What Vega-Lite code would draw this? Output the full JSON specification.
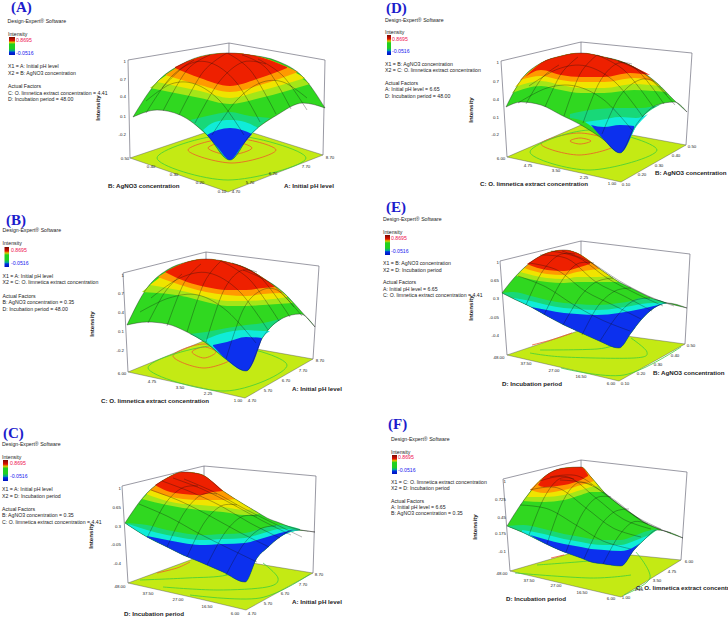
{"$schema":"https://vega.github.io/schema/vega-lite/v6.json","width":728,"height":619,"padding":0,"autosize":{"type":"fit","contains":"padding"},"background":"white","view":{"stroke":null},
"encoding":{"x":{"field":"x","type":"quantitative","axis":null,"scale":{"domain":[0,728],"nice":false,"zero":false}},"y":{"field":"y","type":"quantitative","axis":null,"scale":{"domain":[619,0],"nice":false,"zero":false}}},
"datasets":{
"floor":[
{"p":"A","x":130,"y":158,"y2":158},{"p":"A","x":228,"y":125,"y2":192},{"p":"A","x":323,"y":155,"y2":155},
{"p":"B","x":128,"y":372,"y2":372},{"p":"B","x":206,"y":340,"y2":389},{"p":"B","x":245,"y":347,"y2":398},{"p":"B","x":313,"y":359,"y2":359},
{"p":"C","x":128,"y":583,"y2":583},{"p":"C","x":204,"y":555,"y2":600},{"p":"C","x":246,"y":562,"y2":610},{"p":"C","x":313,"y":573,"y2":573},
{"p":"D","x":507,"y":157,"y2":157},{"p":"D","x":581,"y":125,"y2":173},{"p":"D","x":621,"y":133,"y2":182},{"p":"D","x":686,"y":145,"y2":145},
{"p":"E","x":507,"y":355,"y2":355},{"p":"E","x":581,"y":330,"y2":372},{"p":"E","x":619,"y":335,"y2":381},{"p":"E","x":685,"y":344,"y2":344},
{"p":"F","x":510,"y":571,"y2":571},{"p":"F","x":582,"y":550,"y2":588},{"p":"F","x":621,"y":554,"y2":597},{"p":"F","x":681,"y":560,"y2":560}],
"rings":[
{"l":"A1","c":"o","x":208,"y":148},{"l":"A1","c":"o","x":230,"y":155},{"l":"A1","c":"o","x":252,"y":148},{"l":"A1","c":"o","x":230,"y":141},
{"l":"A2","c":"o","x":188,"y":150},{"l":"A2","c":"o","x":232,"y":163},{"l":"A2","c":"o","x":276,"y":150},{"l":"A2","c":"o","x":232,"y":138},
{"l":"A3","c":"g","x":157,"y":158},{"l":"A3","c":"g","x":228,"y":180},{"l":"A3","c":"g","x":306,"y":158},{"l":"A3","c":"g","x":228,"y":135},
{"l":"B1","c":"o","x":192,"y":352},{"l":"B1","c":"o","x":204,"y":358},{"l":"B1","c":"o","x":216,"y":352},{"l":"B1","c":"o","x":204,"y":347},
{"l":"B2","c":"o","x":173,"y":356},{"l":"B2","c":"o","x":204,"y":368},{"l":"B2","c":"o","x":235,"y":356},{"l":"B2","c":"o","x":204,"y":344},
{"l":"B3","c":"g","x":148,"y":368},{"l":"B3","c":"g","x":225,"y":391},{"l":"B3","c":"g","x":287,"y":365},{"l":"B3","c":"g","x":220,"y":345},
{"l":"D1","c":"o","x":570,"y":141},{"l":"D1","c":"o","x":580,"y":144},{"l":"D1","c":"o","x":591,"y":141},{"l":"D1","c":"o","x":580,"y":138},
{"l":"D2","c":"o","x":541,"y":144},{"l":"D2","c":"o","x":579,"y":155},{"l":"D2","c":"o","x":617,"y":144},{"l":"D2","c":"o","x":579,"y":133},
{"l":"D3","c":"g","x":530,"y":152},{"l":"D3","c":"g","x":590,"y":170},{"l":"D3","c":"g","x":657,"y":150},{"l":"D3","c":"g","x":590,"y":130}],
"arcs":[
{"l":"C1","c":"o","x":157,"y":573},{"l":"C1","c":"o","x":177,"y":568},{"l":"C1","c":"o","x":190,"y":562},
{"l":"C2","c":"g","x":140,"y":580},{"l":"C2","c":"g","x":187,"y":578},{"l":"C2","c":"g","x":227,"y":575},{"l":"C2","c":"g","x":253,"y":562},
{"l":"C3","c":"g","x":263,"y":563},{"l":"C3","c":"g","x":278,"y":578},{"l":"C3","c":"g","x":267,"y":587},{"l":"C3","c":"g","x":217,"y":590},{"l":"C3","c":"g","x":163,"y":587},
{"l":"C4","c":"g","x":190,"y":595},{"l":"C4","c":"g","x":260,"y":598},{"l":"C4","c":"g","x":310,"y":574},
{"l":"E1","c":"o","x":532,"y":345},{"l":"E1","c":"o","x":551,"y":340},{"l":"E1","c":"o","x":572,"y":333},
{"l":"E2","c":"g","x":540,"y":350},{"l":"E2","c":"g","x":597,"y":349},{"l":"E2","c":"g","x":617,"y":344},
{"l":"E3","c":"g","x":631,"y":338},{"l":"E3","c":"g","x":647,"y":352},{"l":"E3","c":"g","x":634,"y":358},{"l":"E3","c":"g","x":564,"y":357},{"l":"E3","c":"g","x":530,"y":353},
{"l":"E4","c":"g","x":561,"y":368},{"l":"E4","c":"g","x":624,"y":375},{"l":"E4","c":"g","x":681,"y":347},
{"l":"F1","c":"o","x":551,"y":558},{"l":"F1","c":"o","x":564,"y":555},
{"l":"F2","c":"g","x":537,"y":565},{"l":"F2","c":"g","x":577,"y":562},{"l":"F2","c":"g","x":624,"y":558},
{"l":"F3","c":"g","x":636,"y":552},{"l":"F3","c":"g","x":650,"y":578},{"l":"F3","c":"g","x":624,"y":595},
{"l":"F4","c":"g","x":515,"y":573},{"l":"F4","c":"g","x":590,"y":578},{"l":"F4","c":"g","x":631,"y":575}],
"box":[
{"l":"A","x":130,"y":158},{"l":"A","x":128,"y":60},{"l":"A","x":229,"y":43},{"l":"A","x":325,"y":60},{"l":"A","x":323,"y":155},{"l":"a","x":229,"y":43},{"l":"a","x":228,"y":125},
{"l":"B","x":128,"y":372},{"l":"B","x":123,"y":273},{"l":"B","x":206,"y":252},{"l":"B","x":319,"y":266},{"l":"B","x":313,"y":359},{"l":"b","x":206,"y":252},{"l":"b","x":206,"y":340},
{"l":"C","x":128,"y":583},{"l":"C","x":122,"y":486},{"l":"C","x":204,"y":466},{"l":"C","x":316,"y":476},{"l":"C","x":313,"y":573},{"l":"c","x":204,"y":466},{"l":"c","x":204,"y":555},
{"l":"D","x":507,"y":157},{"l":"D","x":501,"y":61},{"l":"D","x":581,"y":42},{"l":"D","x":692,"y":53},{"l":"D","x":686,"y":145},{"l":"d","x":581,"y":42},{"l":"d","x":581,"y":125},
{"l":"E","x":507,"y":355},{"l":"E","x":500,"y":261},{"l":"E","x":581,"y":241},{"l":"E","x":690,"y":254},{"l":"E","x":685,"y":344},{"l":"e","x":581,"y":241},{"l":"e","x":581,"y":330},
{"l":"F","x":510,"y":571},{"l":"F","x":503,"y":479},{"l":"F","x":581,"y":460},{"l":"F","x":687,"y":472},{"l":"F","x":681,"y":560},{"l":"f","x":581,"y":460},{"l":"f","x":582,"y":550}],
"surf":[
{"p":"A","b":"g","x":133,"y":117,"y2":117},{"p":"A","b":"g","x":157,"y":82,"y2":110},{"p":"A","b":"g","x":180,"y":65,"y2":115},{"p":"A","b":"g","x":207,"y":55,"y2":135},{"p":"A","b":"g","x":230,"y":53,"y2":160},{"p":"A","b":"g","x":250,"y":55,"y2":135},{"p":"A","b":"g","x":277,"y":61,"y2":115},{"p":"A","b":"g","x":303,"y":77,"y2":103},{"p":"A","b":"g","x":325,"y":108,"y2":108},
{"p":"A","b":"t","x":190,"y":120,"y2":120},{"p":"A","b":"t","x":207,"y":116,"y2":135},{"p":"A","b":"t","x":230,"y":112,"y2":160},{"p":"A","b":"t","x":250,"y":116,"y2":135},{"p":"A","b":"t","x":270,"y":118,"y2":118},
{"p":"A","b":"c","x":203,"y":130,"y2":130},{"p":"A","b":"c","x":215,"y":122,"y2":144},{"p":"A","b":"c","x":230,"y":120,"y2":160},{"p":"A","b":"c","x":245,"y":122,"y2":141},{"p":"A","b":"c","x":258,"y":128,"y2":128},
{"p":"A","b":"k","x":207,"y":135,"y2":135},{"p":"A","b":"k","x":218,"y":130,"y2":148},{"p":"A","b":"k","x":230,"y":128,"y2":160},{"p":"A","b":"k","x":242,"y":130,"y2":146},{"p":"A","b":"k","x":252,"y":134,"y2":134},
{"p":"A","b":"l","x":150,"y":88,"y2":88},{"p":"A","b":"l","x":200,"y":57,"y2":98},{"p":"A","b":"l","x":230,"y":53,"y2":104},{"p":"A","b":"l","x":260,"y":57,"y2":98},{"p":"A","b":"l","x":310,"y":84,"y2":84},
{"p":"A","b":"y","x":157,"y":82,"y2":82},{"p":"A","b":"y","x":200,"y":57,"y2":91},{"p":"A","b":"y","x":230,"y":53,"y2":98},{"p":"A","b":"y","x":260,"y":57,"y2":91},{"p":"A","b":"y","x":305,"y":78,"y2":78},
{"p":"A","b":"o","x":165,"y":75,"y2":75},{"p":"A","b":"o","x":200,"y":57,"y2":85},{"p":"A","b":"o","x":230,"y":53,"y2":92},{"p":"A","b":"o","x":260,"y":57,"y2":85},{"p":"A","b":"o","x":298,"y":72,"y2":72},
{"p":"A","b":"r","x":175,"y":67,"y2":68},{"p":"A","b":"r","x":200,"y":57,"y2":78},{"p":"A","b":"r","x":230,"y":53,"y2":86},{"p":"A","b":"r","x":260,"y":57,"y2":78},{"p":"A","b":"r","x":287,"y":67,"y2":68},
{"p":"B","b":"g","x":127,"y":325,"y2":325},{"p":"B","b":"g","x":147,"y":288,"y2":322},{"p":"B","b":"g","x":167,"y":270,"y2":324},{"p":"B","b":"g","x":187,"y":262,"y2":332},{"p":"B","b":"g","x":206,"y":259,"y2":343},{"p":"B","b":"g","x":227,"y":262,"y2":360},{"p":"B","b":"g","x":246,"y":268,"y2":371},{"p":"B","b":"g","x":263,"y":278,"y2":337},{"p":"B","b":"g","x":283,"y":292,"y2":318},{"p":"B","b":"g","x":300,"y":310,"y2":314},{"p":"B","b":"g","x":315,"y":327,"y2":327},
{"p":"B","b":"t","x":190,"y":334,"y2":334},{"p":"B","b":"t","x":206,"y":332,"y2":343},{"p":"B","b":"t","x":227,"y":328,"y2":360},{"p":"B","b":"t","x":246,"y":325,"y2":371},{"p":"B","b":"t","x":263,"y":323,"y2":337},{"p":"B","b":"t","x":283,"y":318,"y2":318},
{"p":"B","b":"c","x":205,"y":340,"y2":340},{"p":"B","b":"c","x":220,"y":334,"y2":354},{"p":"B","b":"c","x":246,"y":330,"y2":371},{"p":"B","b":"c","x":263,"y":331,"y2":337},{"p":"B","b":"c","x":270,"y":331,"y2":331},
{"p":"B","b":"k","x":213,"y":345,"y2":346},{"p":"B","b":"k","x":227,"y":342,"y2":360},{"p":"B","b":"k","x":246,"y":337,"y2":371},{"p":"B","b":"k","x":262,"y":338,"y2":338},
{"p":"B","b":"l","x":142,"y":292,"y2":292},{"p":"B","b":"l","x":187,"y":262,"y2":297},{"p":"B","b":"l","x":206,"y":259,"y2":302},{"p":"B","b":"l","x":227,"y":262,"y2":306},{"p":"B","b":"l","x":246,"y":268,"y2":306},{"p":"B","b":"l","x":263,"y":278,"y2":305},{"p":"B","b":"l","x":293,"y":303,"y2":303},
{"p":"B","b":"y","x":150,"y":285,"y2":285},{"p":"B","b":"y","x":187,"y":262,"y2":292},{"p":"B","b":"y","x":206,"y":259,"y2":297},{"p":"B","b":"y","x":227,"y":262,"y2":301},{"p":"B","b":"y","x":246,"y":268,"y2":301},{"p":"B","b":"y","x":263,"y":278,"y2":300},{"p":"B","b":"y","x":288,"y":297,"y2":297},
{"p":"B","b":"o","x":158,"y":277,"y2":277},{"p":"B","b":"o","x":187,"y":262,"y2":287},{"p":"B","b":"o","x":206,"y":259,"y2":292},{"p":"B","b":"o","x":227,"y":262,"y2":295},{"p":"B","b":"o","x":246,"y":268,"y2":296},{"p":"B","b":"o","x":263,"y":278,"y2":294},{"p":"B","b":"o","x":283,"y":293,"y2":293},
{"p":"B","b":"r","x":165,"y":272,"y2":272},{"p":"B","b":"r","x":187,"y":262,"y2":282},{"p":"B","b":"r","x":206,"y":259,"y2":287},{"p":"B","b":"r","x":227,"y":262,"y2":290},{"p":"B","b":"r","x":246,"y":268,"y2":290},{"p":"B","b":"r","x":263,"y":278,"y2":288},{"p":"B","b":"r","x":275,"y":287,"y2":287},
{"p":"C","b":"g","x":125,"y":523,"y2":523},{"p":"C","b":"g","x":147,"y":493,"y2":537},{"p":"C","b":"g","x":167,"y":478,"y2":547},{"p":"C","b":"g","x":183,"y":472,"y2":555},{"p":"C","b":"g","x":200,"y":474,"y2":562},{"p":"C","b":"g","x":223,"y":491,"y2":572},{"p":"C","b":"g","x":245,"y":505,"y2":582},{"p":"C","b":"g","x":257,"y":512,"y2":558},{"p":"C","b":"g","x":267,"y":518,"y2":548},{"p":"C","b":"g","x":280,"y":523,"y2":537},{"p":"C","b":"g","x":293,"y":528,"y2":530},{"p":"C","b":"g","x":315,"y":532,"y2":532},
{"p":"C","b":"t","x":125,"y":523,"y2":523},{"p":"C","b":"t","x":147,"y":525,"y2":537},{"p":"C","b":"t","x":167,"y":530,"y2":547},{"p":"C","b":"t","x":183,"y":533,"y2":555},{"p":"C","b":"t","x":200,"y":535,"y2":562},{"p":"C","b":"t","x":223,"y":534,"y2":572},{"p":"C","b":"t","x":245,"y":533,"y2":582},{"p":"C","b":"t","x":257,"y":530,"y2":558},{"p":"C","b":"t","x":267,"y":527,"y2":548},{"p":"C","b":"t","x":280,"y":525,"y2":537},{"p":"C","b":"t","x":300,"y":529,"y2":530},
{"p":"C","b":"c","x":128,"y":524,"y2":525},{"p":"C","b":"c","x":147,"y":530,"y2":537},{"p":"C","b":"c","x":167,"y":535,"y2":547},{"p":"C","b":"c","x":183,"y":538,"y2":555},{"p":"C","b":"c","x":200,"y":540,"y2":562},{"p":"C","b":"c","x":223,"y":539,"y2":572},{"p":"C","b":"c","x":245,"y":538,"y2":582},{"p":"C","b":"c","x":257,"y":535,"y2":558},{"p":"C","b":"c","x":267,"y":532,"y2":548},{"p":"C","b":"c","x":280,"y":529,"y2":537},{"p":"C","b":"c","x":300,"y":530,"y2":530},
{"p":"C","b":"k","x":147,"y":536,"y2":537},{"p":"C","b":"k","x":167,"y":540,"y2":547},{"p":"C","b":"k","x":183,"y":543,"y2":555},{"p":"C","b":"k","x":200,"y":545,"y2":562},{"p":"C","b":"k","x":223,"y":544,"y2":572},{"p":"C","b":"k","x":245,"y":543,"y2":582},{"p":"C","b":"k","x":257,"y":540,"y2":558},{"p":"C","b":"k","x":267,"y":537,"y2":548},{"p":"C","b":"k","x":280,"y":533,"y2":537},{"p":"C","b":"k","x":293,"y":530,"y2":530},
{"p":"C","b":"l","x":142,"y":499,"y2":499},{"p":"C","b":"l","x":167,"y":478,"y2":505},{"p":"C","b":"l","x":183,"y":472,"y2":508},{"p":"C","b":"l","x":200,"y":474,"y2":510},{"p":"C","b":"l","x":223,"y":491,"y2":512},{"p":"C","b":"l","x":245,"y":505,"y2":515},{"p":"C","b":"l","x":260,"y":514,"y2":514},
{"p":"C","b":"y","x":146,"y":494,"y2":494},{"p":"C","b":"y","x":167,"y":478,"y2":501},{"p":"C","b":"y","x":183,"y":472,"y2":504},{"p":"C","b":"y","x":200,"y":474,"y2":505},{"p":"C","b":"y","x":223,"y":491,"y2":507},{"p":"C","b":"y","x":245,"y":505,"y2":510},{"p":"C","b":"y","x":252,"y":509,"y2":509},
{"p":"C","b":"o","x":150,"y":490,"y2":490},{"p":"C","b":"o","x":167,"y":478,"y2":496},{"p":"C","b":"o","x":183,"y":472,"y2":499},{"p":"C","b":"o","x":200,"y":474,"y2":500},{"p":"C","b":"o","x":223,"y":491,"y2":500},{"p":"C","b":"o","x":235,"y":499,"y2":499},
{"p":"C","b":"r","x":155,"y":485,"y2":485},{"p":"C","b":"r","x":167,"y":478,"y2":491},{"p":"C","b":"r","x":183,"y":472,"y2":494},{"p":"C","b":"r","x":200,"y":474,"y2":495},{"p":"C","b":"r","x":213,"y":482,"y2":492},{"p":"C","b":"r","x":223,"y":491,"y2":491},
{"p":"D","b":"g","x":506,"y":107,"y2":107},{"p":"D","b":"g","x":521,"y":80,"y2":102},{"p":"D","b":"g","x":541,"y":63,"y2":105},{"p":"D","b":"g","x":561,"y":56,"y2":115},{"p":"D","b":"g","x":581,"y":53,"y2":125},{"p":"D","b":"g","x":604,"y":57,"y2":140},{"p":"D","b":"g","x":620,"y":61,"y2":153},{"p":"D","b":"g","x":634,"y":67,"y2":128},{"p":"D","b":"g","x":657,"y":83,"y2":105},{"p":"D","b":"g","x":674,"y":100,"y2":102},{"p":"D","b":"g","x":687,"y":112,"y2":112},
{"p":"D","b":"t","x":570,"y":114,"y2":118},{"p":"D","b":"t","x":590,"y":110,"y2":124},{"p":"D","b":"t","x":620,"y":108,"y2":153},{"p":"D","b":"t","x":640,"y":108,"y2":120},{"p":"D","b":"t","x":662,"y":104,"y2":104},
{"p":"D","b":"c","x":585,"y":122,"y2":122},{"p":"D","b":"c","x":600,"y":120,"y2":133},{"p":"D","b":"c","x":620,"y":117,"y2":153},{"p":"D","b":"c","x":636,"y":118,"y2":127},{"p":"D","b":"c","x":648,"y":114,"y2":114},
{"p":"D","b":"k","x":591,"y":125,"y2":125},{"p":"D","b":"k","x":604,"y":127,"y2":140},{"p":"D","b":"k","x":620,"y":125,"y2":153},{"p":"D","b":"k","x":634,"y":126,"y2":128},
{"p":"D","b":"l","x":512,"y":93,"y2":93},{"p":"D","b":"l","x":541,"y":63,"y2":86},{"p":"D","b":"l","x":561,"y":56,"y2":90},{"p":"D","b":"l","x":581,"y":53,"y2":93},{"p":"D","b":"l","x":604,"y":57,"y2":93},{"p":"D","b":"l","x":634,"y":67,"y2":90},{"p":"D","b":"l","x":666,"y":92,"y2":92},
{"p":"D","b":"y","x":515,"y":87,"y2":87},{"p":"D","b":"y","x":541,"y":63,"y2":81},{"p":"D","b":"y","x":561,"y":56,"y2":85},{"p":"D","b":"y","x":581,"y":53,"y2":88},{"p":"D","b":"y","x":604,"y":57,"y2":88},{"p":"D","b":"y","x":634,"y":67,"y2":84},{"p":"D","b":"y","x":660,"y":86,"y2":86},
{"p":"D","b":"o","x":520,"y":80,"y2":80},{"p":"D","b":"o","x":541,"y":63,"y2":76},{"p":"D","b":"o","x":561,"y":56,"y2":80},{"p":"D","b":"o","x":581,"y":53,"y2":82},{"p":"D","b":"o","x":604,"y":57,"y2":82},{"p":"D","b":"o","x":634,"y":67,"y2":78},{"p":"D","b":"o","x":655,"y":82,"y2":82},
{"p":"D","b":"r","x":525,"y":77,"y2":77},{"p":"D","b":"r","x":541,"y":63,"y2":70},{"p":"D","b":"r","x":561,"y":56,"y2":75},{"p":"D","b":"r","x":581,"y":53,"y2":77},{"p":"D","b":"r","x":604,"y":57,"y2":77},{"p":"D","b":"r","x":630,"y":65,"y2":73},{"p":"D","b":"r","x":650,"y":75,"y2":75},
{"p":"E","b":"g","x":502,"y":293,"y2":293},{"p":"E","b":"g","x":514,"y":278,"y2":299},{"p":"E","b":"g","x":531,"y":262,"y2":307},{"p":"E","b":"g","x":547,"y":253,"y2":316},{"p":"E","b":"g","x":564,"y":250,"y2":325},{"p":"E","b":"g","x":577,"y":253,"y2":331},{"p":"E","b":"g","x":597,"y":267,"y2":340},{"p":"E","b":"g","x":619,"y":282,"y2":348},{"p":"E","b":"g","x":631,"y":288,"y2":333},{"p":"E","b":"g","x":641,"y":293,"y2":320},{"p":"E","b":"g","x":654,"y":299,"y2":308},{"p":"E","b":"g","x":667,"y":303,"y2":303},{"p":"E","b":"g","x":687,"y":308,"y2":308},
{"p":"E","b":"t","x":502,"y":293,"y2":293},{"p":"E","b":"t","x":514,"y":292,"y2":299},{"p":"E","b":"t","x":531,"y":296,"y2":307},{"p":"E","b":"t","x":547,"y":300,"y2":316},{"p":"E","b":"t","x":564,"y":303,"y2":325},{"p":"E","b":"t","x":577,"y":304,"y2":331},{"p":"E","b":"t","x":597,"y":305,"y2":340},{"p":"E","b":"t","x":619,"y":303,"y2":348},{"p":"E","b":"t","x":631,"y":301,"y2":333},{"p":"E","b":"t","x":641,"y":298,"y2":320},{"p":"E","b":"t","x":654,"y":299,"y2":308},{"p":"E","b":"t","x":667,"y":303,"y2":303},
{"p":"E","b":"c","x":514,"y":298,"y2":299},{"p":"E","b":"c","x":531,"y":301,"y2":307},{"p":"E","b":"c","x":547,"y":305,"y2":316},{"p":"E","b":"c","x":564,"y":308,"y2":325},{"p":"E","b":"c","x":577,"y":309,"y2":331},{"p":"E","b":"c","x":597,"y":310,"y2":340},{"p":"E","b":"c","x":619,"y":308,"y2":348},{"p":"E","b":"c","x":631,"y":306,"y2":333},{"p":"E","b":"c","x":641,"y":304,"y2":320},{"p":"E","b":"c","x":654,"y":303,"y2":308},{"p":"E","b":"c","x":667,"y":303,"y2":303},
{"p":"E","b":"k","x":531,"y":307,"y2":307},{"p":"E","b":"k","x":547,"y":310,"y2":316},{"p":"E","b":"k","x":564,"y":313,"y2":325},{"p":"E","b":"k","x":577,"y":314,"y2":331},{"p":"E","b":"k","x":597,"y":315,"y2":340},{"p":"E","b":"k","x":619,"y":313,"y2":348},{"p":"E","b":"k","x":631,"y":311,"y2":333},{"p":"E","b":"k","x":641,"y":309,"y2":320},{"p":"E","b":"k","x":654,"y":306,"y2":308},{"p":"E","b":"k","x":667,"y":303,"y2":303},
{"p":"E","b":"l","x":516,"y":276,"y2":276},{"p":"E","b":"l","x":547,"y":253,"y2":282},{"p":"E","b":"l","x":564,"y":250,"y2":283},{"p":"E","b":"l","x":577,"y":253,"y2":282},{"p":"E","b":"l","x":597,"y":267,"y2":282},{"p":"E","b":"l","x":619,"y":282,"y2":282},
{"p":"E","b":"y","x":520,"y":272,"y2":272},{"p":"E","b":"y","x":547,"y":253,"y2":278},{"p":"E","b":"y","x":564,"y":250,"y2":279},{"p":"E","b":"y","x":577,"y":253,"y2":277},{"p":"E","b":"y","x":597,"y":267,"y2":277},{"p":"E","b":"y","x":610,"y":276,"y2":276},
{"p":"E","b":"o","x":524,"y":268,"y2":268},{"p":"E","b":"o","x":547,"y":253,"y2":274},{"p":"E","b":"o","x":564,"y":250,"y2":275},{"p":"E","b":"o","x":577,"y":253,"y2":272},{"p":"E","b":"o","x":600,"y":269,"y2":269},
{"p":"E","b":"r","x":527,"y":264,"y2":264},{"p":"E","b":"r","x":547,"y":253,"y2":270},{"p":"E","b":"r","x":564,"y":250,"y2":271},{"p":"E","b":"r","x":577,"y":253,"y2":268},{"p":"E","b":"r","x":590,"y":262,"y2":264},
{"p":"F","b":"g","x":507,"y":526,"y2":526},{"p":"F","b":"g","x":524,"y":500,"y2":533},{"p":"F","b":"g","x":544,"y":477,"y2":543},{"p":"F","b":"g","x":564,"y":468,"y2":552},{"p":"F","b":"g","x":581,"y":467,"y2":558},{"p":"F","b":"g","x":591,"y":477,"y2":562},{"p":"F","b":"g","x":604,"y":492,"y2":564},{"p":"F","b":"g","x":621,"y":506,"y2":566},{"p":"F","b":"g","x":634,"y":515,"y2":550},{"p":"F","b":"g","x":644,"y":522,"y2":540},{"p":"F","b":"g","x":657,"y":528,"y2":530},{"p":"F","b":"g","x":683,"y":538,"y2":538},
{"p":"F","b":"t","x":507,"y":526,"y2":526},{"p":"F","b":"t","x":524,"y":525,"y2":533},{"p":"F","b":"t","x":544,"y":529,"y2":543},{"p":"F","b":"t","x":564,"y":534,"y2":552},{"p":"F","b":"t","x":581,"y":537,"y2":558},{"p":"F","b":"t","x":591,"y":539,"y2":562},{"p":"F","b":"t","x":604,"y":540,"y2":564},{"p":"F","b":"t","x":621,"y":540,"y2":566},{"p":"F","b":"t","x":634,"y":536,"y2":550},{"p":"F","b":"t","x":644,"y":532,"y2":540},{"p":"F","b":"t","x":657,"y":529,"y2":530},
{"p":"F","b":"c","x":522,"y":530,"y2":532},{"p":"F","b":"c","x":544,"y":534,"y2":543},{"p":"F","b":"c","x":564,"y":539,"y2":552},{"p":"F","b":"c","x":581,"y":542,"y2":558},{"p":"F","b":"c","x":591,"y":544,"y2":562},{"p":"F","b":"c","x":604,"y":545,"y2":564},{"p":"F","b":"c","x":621,"y":545,"y2":566},{"p":"F","b":"c","x":634,"y":541,"y2":550},{"p":"F","b":"c","x":644,"y":537,"y2":540},{"p":"F","b":"c","x":650,"y":535,"y2":535},
{"p":"F","b":"k","x":530,"y":535,"y2":535},{"p":"F","b":"k","x":544,"y":539,"y2":543},{"p":"F","b":"k","x":564,"y":544,"y2":552},{"p":"F","b":"k","x":581,"y":547,"y2":558},{"p":"F","b":"k","x":591,"y":549,"y2":562},{"p":"F","b":"k","x":604,"y":550,"y2":564},{"p":"F","b":"k","x":621,"y":551,"y2":566},{"p":"F","b":"k","x":634,"y":547,"y2":550},{"p":"F","b":"k","x":640,"y":543,"y2":543},
{"p":"F","b":"l","x":523,"y":501,"y2":501},{"p":"F","b":"l","x":544,"y":477,"y2":502},{"p":"F","b":"l","x":564,"y":468,"y2":500},{"p":"F","b":"l","x":581,"y":467,"y2":495},{"p":"F","b":"l","x":591,"y":477,"y2":492},{"p":"F","b":"l","x":604,"y":492,"y2":492},
{"p":"F","b":"y","x":527,"y":497,"y2":497},{"p":"F","b":"y","x":544,"y":477,"y2":497},{"p":"F","b":"y","x":564,"y":468,"y2":495},{"p":"F","b":"y","x":581,"y":467,"y2":490},{"p":"F","b":"y","x":591,"y":477,"y2":487},{"p":"F","b":"y","x":598,"y":486,"y2":486},
{"p":"F","b":"o","x":530,"y":490,"y2":490},{"p":"F","b":"o","x":544,"y":477,"y2":493},{"p":"F","b":"o","x":564,"y":468,"y2":490},{"p":"F","b":"o","x":581,"y":467,"y2":485},{"p":"F","b":"o","x":591,"y":477,"y2":482},{"p":"F","b":"o","x":594,"y":481,"y2":481},
{"p":"F","b":"r","x":538,"y":485,"y2":485},{"p":"F","b":"r","x":544,"y":477,"y2":487},{"p":"F","b":"r","x":564,"y":468,"y2":485},{"p":"F","b":"r","x":581,"y":467,"y2":480},{"p":"F","b":"r","x":588,"y":475,"y2":476}],
"mesh":[
{"l":"A1","x":146,"y":113},{"l":"A1","x":170,"y":78},{"l":"A1","x":194,"y":60},
{"l":"A2","x":163,"y":111},{"l":"A2","x":187,"y":70},{"l":"A2","x":210,"y":55},
{"l":"A3","x":179,"y":115},{"l":"A3","x":203,"y":72},{"l":"A3","x":227,"y":53},
{"l":"A4","x":195,"y":123},{"l":"A4","x":219,"y":82},{"l":"A4","x":243,"y":62},{"l":"A4","x":266,"y":64},
{"l":"A5","x":212,"y":135},{"l":"A5","x":236,"y":101},{"l":"A5","x":260,"y":83},{"l":"A5","x":283,"y":82},{"l":"A5","x":307,"y":98},
{"l":"A6","x":244,"y":135},{"l":"A6","x":220,"y":101},{"l":"A6","x":195,"y":84},{"l":"A6","x":171,"y":84},{"l":"A6","x":146,"y":101},
{"l":"A7","x":260,"y":122},{"l":"A7","x":236,"y":82},{"l":"A7","x":211,"y":63},{"l":"A7","x":187,"y":65},{"l":"A7","x":162,"y":88},
{"l":"A8","x":276,"y":114},{"l":"A8","x":251,"y":71},{"l":"A8","x":227,"y":53},
{"l":"A9","x":291,"y":109},{"l":"A9","x":267,"y":69},{"l":"A9","x":242,"y":55},
{"l":"A0","x":307,"y":110},{"l":"A0","x":283,"y":76},{"l":"A0","x":258,"y":59},
{"l":"B1","x":148,"y":323},{"l":"B1","x":165,"y":292},{"l":"B1","x":182,"y":274},
{"l":"B2","x":167,"y":326},{"l":"B2","x":184,"y":283},{"l":"B2","x":201,"y":264},
{"l":"B3","x":187,"y":332},{"l":"B3","x":204,"y":283},{"l":"B3","x":221,"y":261},
{"l":"B4","x":206,"y":342},{"l":"B4","x":223,"y":292},{"l":"B4","x":240,"y":271},{"l":"B4","x":257,"y":272},
{"l":"B5","x":226,"y":359},{"l":"B5","x":243,"y":310},{"l":"B5","x":260,"y":291},{"l":"B5","x":277,"y":290},{"l":"B5","x":294,"y":307},
{"l":"B6","x":256,"y":343},{"l":"B6","x":227,"y":311},{"l":"B6","x":198,"y":295},{"l":"B6","x":169,"y":298},{"l":"B6","x":140,"y":312},
{"l":"B7","x":268,"y":330},{"l":"B7","x":239,"y":291},{"l":"B7","x":209,"y":273},{"l":"B7","x":180,"y":278},{"l":"B7","x":151,"y":298},
{"l":"B8","x":279,"y":321},{"l":"B8","x":250,"y":280},{"l":"B8","x":221,"y":261},
{"l":"B9","x":290,"y":317},{"l":"B9","x":261,"y":278},{"l":"B9","x":232,"y":263},
{"l":"B0","x":302,"y":316},{"l":"B0","x":273,"y":285},{"l":"B0","x":243,"y":270},
{"l":"C1","x":148,"y":536},{"l":"C1","x":165,"y":504},{"l":"C1","x":182,"y":488},{"l":"C1","x":198,"y":486},
{"l":"C2","x":167,"y":547},{"l":"C2","x":184,"y":513},{"l":"C2","x":201,"y":495},{"l":"C2","x":217,"y":494},
{"l":"C3","x":187,"y":557},{"l":"C3","x":204,"y":523},{"l":"C3","x":221,"y":506},{"l":"C3","x":237,"y":505},
{"l":"C4","x":207,"y":565},{"l":"C4","x":224,"y":534},{"l":"C4","x":241,"y":517},{"l":"C4","x":257,"y":516},
{"l":"C5","x":226,"y":575},{"l":"C5","x":243,"y":545},{"l":"C5","x":260,"y":529},{"l":"C5","x":276,"y":526},
{"l":"C6","x":139,"y":504},{"l":"C6","x":169,"y":517},{"l":"C6","x":198,"y":533},{"l":"C6","x":228,"y":548},{"l":"C6","x":257,"y":562},
{"l":"C7","x":151,"y":490},{"l":"C7","x":180,"y":501},{"l":"C7","x":210,"y":516},{"l":"C7","x":239,"y":532},{"l":"C7","x":269,"y":547},
{"l":"C8","x":162,"y":481},{"l":"C8","x":191,"y":492},{"l":"C8","x":221,"y":506},{"l":"C8","x":250,"y":523},{"l":"C8","x":280,"y":538},
{"l":"C9","x":173,"y":478},{"l":"C9","x":202,"y":489},{"l":"C9","x":232,"y":504},{"l":"C9","x":261,"y":520},{"l":"C9","x":291,"y":535},
{"l":"C0","x":184,"y":479},{"l":"C0","x":214,"y":492},{"l":"C0","x":243,"y":508},{"l":"C0","x":273,"y":523},{"l":"C0","x":302,"y":537},
{"l":"D1","x":526,"y":104},{"l":"D1","x":542,"y":78},{"l":"D1","x":559,"y":65},
{"l":"D2","x":545,"y":107},{"l":"D2","x":561,"y":74},{"l":"D2","x":578,"y":57},
{"l":"D3","x":564,"y":116},{"l":"D3","x":580,"y":74},{"l":"D3","x":597,"y":55},
{"l":"D4","x":583,"y":123},{"l":"D4","x":599,"y":83},{"l":"D4","x":616,"y":64},{"l":"D4","x":632,"y":64},
{"l":"D5","x":602,"y":134},{"l":"D5","x":618,"y":99},{"l":"D5","x":635,"y":82},{"l":"D5","x":651,"y":80},{"l":"D5","x":667,"y":95},
{"l":"D6","x":632,"y":130},{"l":"D6","x":604,"y":100},{"l":"D6","x":575,"y":86},{"l":"D6","x":547,"y":88},{"l":"D6","x":518,"y":103},
{"l":"D7","x":643,"y":117},{"l":"D7","x":615,"y":82},{"l":"D7","x":586,"y":66},{"l":"D7","x":558,"y":69},{"l":"D7","x":529,"y":86},
{"l":"D8","x":654,"y":108},{"l":"D8","x":625,"y":71},{"l":"D8","x":597,"y":55},
{"l":"D9","x":664,"y":104},{"l":"D9","x":636,"y":69},{"l":"D9","x":607,"y":58},
{"l":"D0","x":675,"y":105},{"l":"D0","x":646,"y":75},{"l":"D0","x":618,"y":61},
{"l":"E1","x":526,"y":305},{"l":"E1","x":542,"y":272},{"l":"E1","x":559,"y":255},{"l":"E1","x":575,"y":254},
{"l":"E2","x":544,"y":315},{"l":"E2","x":561,"y":282},{"l":"E2","x":577,"y":264},{"l":"E2","x":594,"y":263},
{"l":"E3","x":563,"y":325},{"l":"E3","x":580,"y":297},{"l":"E3","x":596,"y":282},{"l":"E3","x":613,"y":278},
{"l":"E4","x":582,"y":335},{"l":"E4","x":598,"y":306},{"l":"E4","x":615,"y":291},{"l":"E4","x":631,"y":288},
{"l":"E5","x":600,"y":341},{"l":"E5","x":617,"y":316},{"l":"E5","x":633,"y":301},{"l":"E5","x":650,"y":298},
{"l":"E6","x":518,"y":276},{"l":"E6","x":546,"y":287},{"l":"E6","x":574,"y":305},{"l":"E6","x":602,"y":320},{"l":"E6","x":630,"y":331},
{"l":"E7","x":529,"y":263},{"l":"E7","x":557,"y":270},{"l":"E7","x":585,"y":291},{"l":"E7","x":613,"y":305},{"l":"E7","x":641,"y":319},
{"l":"E8","x":540,"y":255},{"l":"E8","x":568,"y":259},{"l":"E8","x":596,"y":282},{"l":"E8","x":624,"y":296},{"l":"E8","x":652,"y":311},
{"l":"E9","x":551,"y":251},{"l":"E9","x":579,"y":258},{"l":"E9","x":607,"y":278},{"l":"E9","x":635,"y":293},{"l":"E9","x":663,"y":306},
{"l":"E0","x":562,"y":251},{"l":"E0","x":590,"y":262},{"l":"E0","x":618,"y":280},{"l":"E0","x":646,"y":295},{"l":"E0","x":674,"y":306},
{"l":"F1","x":529,"y":535},{"l":"F1","x":544,"y":498},{"l":"F1","x":559,"y":479},{"l":"F1","x":574,"y":479},
{"l":"F2","x":547,"y":544},{"l":"F2","x":562,"y":503},{"l":"F2","x":577,"y":483},{"l":"F2","x":592,"y":485},
{"l":"F3","x":566,"y":552},{"l":"F3","x":581,"y":516},{"l":"F3","x":596,"y":498},{"l":"F3","x":611,"y":497},
{"l":"F4","x":584,"y":559},{"l":"F4","x":599,"y":528},{"l":"F4","x":614,"y":512},{"l":"F4","x":629,"y":509},
{"l":"F5","x":603,"y":564},{"l":"F5","x":618,"y":537},{"l":"F5","x":633,"y":522},{"l":"F5","x":648,"y":524},
{"l":"F6","x":520,"y":505},{"l":"F6","x":548,"y":509},{"l":"F6","x":576,"y":525},{"l":"F6","x":603,"y":541},{"l":"F6","x":631,"y":549},
{"l":"F7","x":530,"y":490},{"l":"F7","x":558,"y":488},{"l":"F7","x":586,"y":508},{"l":"F7","x":613,"y":528},{"l":"F7","x":641,"y":537},
{"l":"F8","x":540,"y":481},{"l":"F8","x":568,"y":477},{"l":"F8","x":596,"y":498},{"l":"F8","x":623,"y":519},{"l":"F8","x":651,"y":529},
{"l":"F9","x":550,"y":477},{"l":"F9","x":578,"y":476},{"l":"F9","x":606,"y":495},{"l":"F9","x":633,"y":515},{"l":"F9","x":661,"y":529},
{"l":"F0","x":560,"y":480},{"l":"F0","x":588,"y":484},{"l":"F0","x":616,"y":501},{"l":"F0","x":643,"y":522},{"l":"F0","x":671,"y":533}],
"bars":[{"p":"A","x":9,"x2":15,"y":37,"y2":55},{"p":"B","x":4.5,"x2":9,"y":247,"y2":267},{"p":"C","x":3,"x2":8,"y":460,"y2":481},{"p":"D","x":387,"x2":391,"y":35,"y2":55},{"p":"E","x":385,"x2":390,"y":235,"y2":255},{"p":"F","x":392,"x2":397,"y":455,"y2":474}],
"text":[
{"r":"tag","x":11,"y":7,"t":"(A)"},{"r":"tag","x":6,"y":220,"t":"(B)"},{"r":"tag","x":3,"y":433,"t":"(C)"},{"r":"tag","x":386,"y":8,"t":"(D)"},{"r":"tag","x":386,"y":207,"t":"(E)"},{"r":"tag","x":388,"y":424,"t":"(F)"},
{"r":"red","x":16,"y":40,"t":"0.8695"},{"r":"blue","x":16,"y":53,"t":"-0.0516"},{"r":"red","x":11,"y":250,"t":"0.8695"},{"r":"blue","x":11,"y":263,"t":"-0.0516"},{"r":"red","x":10,"y":463,"t":"0.8695"},{"r":"blue","x":10,"y":476,"t":"-0.0516"},{"r":"red","x":392,"y":39,"t":"0.8695"},{"r":"blue","x":392,"y":51,"t":"-0.0516"},{"r":"red","x":391,"y":238,"t":"0.8695"},{"r":"blue","x":391,"y":251,"t":"-0.0516"},{"r":"red","x":398,"y":457,"t":"0.8695"},{"r":"blue","x":398,"y":470,"t":"-0.0516"},
{"r":"info","x":7.5,"y":21,"t":"Design-Expert® Software"},{"r":"info","x":8,"y":34,"t":"Intensity"},{"r":"info","x":8,"y":66,"t":"X1 = A: Initial pH  level"},{"r":"info","x":8,"y":73,"t":"X2 = B: AgNO3 concentration"},{"r":"info","x":8,"y":86,"t":"Actual Factors"},{"r":"info","x":8,"y":93,"t":"C: O. limnetica extract concentration  = 4.41"},{"r":"info","x":8,"y":99,"t":"D: Incubation period   = 48.00"},
{"r":"info","x":2.5,"y":230,"t":"Design-Expert® Software"},{"r":"info","x":2.5,"y":243,"t":"Intensity"},{"r":"info","x":2.5,"y":276,"t":"X1 = A: Initial pH  level"},{"r":"info","x":2.5,"y":282,"t":"X2 = C: O. limnetica extract concentration"},{"r":"info","x":2.5,"y":296,"t":"Actual Factors"},{"r":"info","x":2.5,"y":302,"t":"B: AgNO3 concentration  = 0.35"},{"r":"info","x":2.5,"y":309,"t":"D: Incubation period   = 48.00"},
{"r":"info","x":2,"y":444,"t":"Design-Expert® Software"},{"r":"info","x":2,"y":457,"t":"Intensity"},{"r":"info","x":2,"y":489,"t":"X1 = A: Initial pH  level"},{"r":"info","x":2,"y":496,"t":"X2 = D: Incubation period"},{"r":"info","x":2,"y":509,"t":"Actual Factors"},{"r":"info","x":2,"y":515,"t":"B: AgNO3 concentration  = 0.35"},{"r":"info","x":2,"y":522,"t":"C: O. limnetica extract concentration  = 4.41"},
{"r":"info","x":385,"y":20,"t":"Design-Expert® Software"},{"r":"info","x":385,"y":32,"t":"Intensity"},{"r":"info","x":385,"y":64,"t":"X1 = B: AgNO3 concentration"},{"r":"info","x":385,"y":70,"t":"X2 = C: O. limnetica extract concentration"},{"r":"info","x":385,"y":83,"t":"Actual Factors"},{"r":"info","x":385,"y":89,"t":"A: Initial pH  level  = 6.65"},{"r":"info","x":385,"y":96,"t":"D: Incubation period   = 48.00"},
{"r":"info","x":383,"y":219,"t":"Design-Expert® Software"},{"r":"info","x":383,"y":232,"t":"Intensity"},{"r":"info","x":383,"y":263,"t":"X1 = B: AgNO3 concentration"},{"r":"info","x":383,"y":270,"t":"X2 = D: Incubation period"},{"r":"info","x":383,"y":282,"t":"Actual Factors"},{"r":"info","x":383,"y":289,"t":"A: Initial pH  level  = 6.65"},{"r":"info","x":383,"y":295,"t":"C: O. limnetica extract concentration  = 4.41"},
{"r":"info","x":391,"y":439,"t":"Design-Expert® Software"},{"r":"info","x":391,"y":452,"t":"Intensity"},{"r":"info","x":391,"y":482,"t":"X1 = C: O. limnetica extract concentration"},{"r":"info","x":391,"y":488,"t":"X2 = D: Incubation period"},{"r":"info","x":391,"y":501,"t":"Actual Factors"},{"r":"info","x":391,"y":507,"t":"A: Initial pH  level  = 6.65"},{"r":"info","x":391,"y":513,"t":"B: AgNO3 concentration  = 0.35"},
{"r":"ax","x":108,"y":186,"t":"B: AgNO3 concentration"},{"r":"ax","x":284,"y":186,"t":"A: Initial pH  level"},{"r":"ax","x":101,"y":401,"t":"C: O. limnetica extract concentration"},{"r":"ax","x":292,"y":389,"t":"A: Initial pH  level"},{"r":"ax","x":124,"y":614,"t":"D: Incubation period"},{"r":"ax","x":292,"y":602,"t":"A: Initial pH  level"},{"r":"ax","x":480,"y":184,"t":"C: O. limnetica extract concentration"},{"r":"ax","x":655,"y":173,"t":"B: AgNO3 concentration"},{"r":"ax","x":502,"y":384,"t":"D: Incubation period"},{"r":"ax","x":653,"y":373,"t":"B: AgNO3 concentration"},{"r":"ax","x":506,"y":599,"t":"D: Incubation period"},{"r":"ax","x":636,"y":588,"t":"C: O. limnetica extract concentration"},
{"r":"rot","x":98,"y":108,"t":"Intensity"},{"r":"rot","x":92,"y":324,"t":"Intensity"},{"r":"rot","x":91,"y":536,"t":"Intensity"},{"r":"rot","x":471,"y":110,"t":"Intensity"},{"r":"rot","x":471,"y":308,"t":"Intensity"},{"r":"rot","x":475,"y":527,"t":"Intensity"},
{"r":"z","x":126,"y":62,"t":"1"},{"r":"z","x":126,"y":80,"t":"0.7"},{"r":"z","x":126,"y":97,"t":"0.4"},{"r":"z","x":126,"y":117,"t":"0.1"},{"r":"z","x":126,"y":135,"t":"-0.2"},
{"r":"z","x":124,"y":276,"t":"1"},{"r":"z","x":124,"y":294,"t":"0.7"},{"r":"z","x":124,"y":313,"t":"0.4"},{"r":"z","x":124,"y":332,"t":"0.1"},{"r":"z","x":124,"y":351,"t":"-0.2"},
{"r":"z","x":121,"y":489,"t":"1"},{"r":"z","x":121,"y":508,"t":"0.65"},{"r":"z","x":121,"y":527,"t":"0.3"},{"r":"z","x":121,"y":545,"t":"-0.05"},{"r":"z","x":121,"y":564,"t":"-0.4"},
{"r":"z","x":499,"y":63,"t":"1"},{"r":"z","x":499,"y":82,"t":"0.7"},{"r":"z","x":499,"y":100,"t":"0.4"},{"r":"z","x":499,"y":118,"t":"0.1"},{"r":"z","x":499,"y":135,"t":"-0.2"},
{"r":"z","x":499,"y":263,"t":"1"},{"r":"z","x":499,"y":281,"t":"0.65"},{"r":"z","x":499,"y":299,"t":"0.3"},{"r":"z","x":499,"y":318,"t":"-0.05"},{"r":"z","x":499,"y":336,"t":"-0.4"},
{"r":"z","x":506,"y":482,"t":"1"},{"r":"z","x":506,"y":500,"t":"0.725"},{"r":"z","x":506,"y":518,"t":"0.45"},{"r":"z","x":506,"y":534,"t":"0.175"},{"r":"z","x":506,"y":552,"t":"-0.1"},
{"r":"tk","x":125,"y":159,"t":"0.50"},{"r":"tk","x":151,"y":167,"t":"0.40"},{"r":"tk","x":174,"y":175,"t":"0.30"},{"r":"tk","x":200,"y":183,"t":"0.20"},{"r":"tk","x":222,"y":192,"t":"0.10"},{"r":"tk","x":236,"y":192,"t":"4.70"},{"r":"tk","x":250,"y":183,"t":"5.70"},{"r":"tk","x":273,"y":174,"t":"6.70"},{"r":"tk","x":306,"y":167,"t":"7.70"},{"r":"tk","x":330,"y":158,"t":"8.70"},
{"r":"tk","x":122,"y":374,"t":"6.00"},{"r":"tk","x":152,"y":382,"t":"4.75"},{"r":"tk","x":180,"y":388,"t":"3.50"},{"r":"tk","x":208,"y":394,"t":"2.25"},{"r":"tk","x":238,"y":401,"t":"1.00"},{"r":"tk","x":252,"y":401,"t":"4.70"},{"r":"tk","x":268,"y":391,"t":"5.70"},{"r":"tk","x":286,"y":381,"t":"6.70"},{"r":"tk","x":303,"y":371,"t":"7.70"},{"r":"tk","x":320,"y":361,"t":"8.70"},
{"r":"tk","x":120,"y":587,"t":"48.00"},{"r":"tk","x":148,"y":594,"t":"37.50"},{"r":"tk","x":178,"y":600,"t":"27.00"},{"r":"tk","x":207,"y":607,"t":"16.50"},{"r":"tk","x":235,"y":614,"t":"6.00"},{"r":"tk","x":252,"y":614,"t":"4.70"},{"r":"tk","x":268,"y":604,"t":"5.70"},{"r":"tk","x":285,"y":594,"t":"6.70"},{"r":"tk","x":303,"y":585,"t":"7.70"},{"r":"tk","x":319,"y":575,"t":"8.70"},
{"r":"tk","x":501,"y":159,"t":"6.00"},{"r":"tk","x":528,"y":166,"t":"4.75"},{"r":"tk","x":556,"y":171,"t":"3.50"},{"r":"tk","x":584,"y":178,"t":"2.25"},{"r":"tk","x":612,"y":184,"t":"1.00"},{"r":"tk","x":626,"y":185,"t":"0.10"},{"r":"tk","x":642,"y":175,"t":"0.20"},{"r":"tk","x":659,"y":166,"t":"0.30"},{"r":"tk","x":676,"y":156,"t":"0.40"},{"r":"tk","x":692,"y":147,"t":"0.50"},
{"r":"tk","x":499,"y":358,"t":"48.00"},{"r":"tk","x":526,"y":364,"t":"37.50"},{"r":"tk","x":554,"y":371,"t":"27.00"},{"r":"tk","x":581,"y":377,"t":"16.50"},{"r":"tk","x":611,"y":384,"t":"6.00"},{"r":"tk","x":625,"y":384,"t":"0.10"},{"r":"tk","x":641,"y":374,"t":"0.20"},{"r":"tk","x":658,"y":365,"t":"0.30"},{"r":"tk","x":675,"y":356,"t":"0.40"},{"r":"tk","x":691,"y":346,"t":"0.50"},
{"r":"tk","x":502,"y":574,"t":"48.00"},{"r":"tk","x":529,"y":581,"t":"37.50"},{"r":"tk","x":556,"y":586,"t":"27.00"},{"r":"tk","x":582,"y":593,"t":"16.50"},{"r":"tk","x":611,"y":599,"t":"6.00"},{"r":"tk","x":626,"y":598,"t":"1.00"},{"r":"tk","x":639,"y":590,"t":"2.25"},{"r":"tk","x":657,"y":581,"t":"3.50"},{"r":"tk","x":672,"y":572,"t":"4.75"},{"r":"tk","x":689,"y":562,"t":"6.00"}]
},
"layer":[
{"data":{"name":"floor"},"mark":{"type":"area","fill":"#c4ea14","stroke":"#445","strokeWidth":0.4},"encoding":{"y2":{"field":"y2"},"detail":{"field":"p"}}},
{"data":{"name":"rings"},"mark":{"type":"line","interpolate":"cardinal-closed","strokeWidth":0.8},"encoding":{"order":{"value":null},"detail":{"field":"l"},"color":{"field":"c","type":"nominal","legend":null,"scale":{"domain":["o","g"],"range":["#ee5a2a","#3ecf38"]}}}},
{"data":{"name":"arcs"},"mark":{"type":"line","interpolate":"cardinal","strokeWidth":0.8},"encoding":{"order":{"value":null},"detail":{"field":"l"},"color":{"field":"c","type":"nominal","legend":null,"scale":{"domain":["o","g"],"range":["#ee5a2a","#3ecf38"]}}}},
{"data":{"name":"box"},"mark":{"type":"line","stroke":"#556","strokeWidth":0.6},"encoding":{"order":{"value":null},"detail":{"field":"l"}}},
{"data":{"name":"surf"},"mark":{"type":"area","interpolate":"monotone"},"encoding":{"y2":{"field":"y2"},"detail":{"field":"p"},"fill":{"field":"b","type":"nominal","legend":null,"scale":{"domain":["g","t","c","k","l","y","o","r"],"range":["#30d820","#18d878","#10ecd8","#0c30ee","#a4e618","#f0e400","#ff9a00","#ee2000"]}}}},
{"data":{"name":"surf"},"transform":[{"filter":"datum.b==='g'"}],"mark":{"type":"area","interpolate":"monotone","fillOpacity":0,"stroke":"#222","strokeWidth":0.4},"encoding":{"y2":{"field":"y2"},"detail":{"field":"p"}}},
{"data":{"name":"mesh"},"mark":{"type":"line","interpolate":"cardinal","stroke":"#111","strokeWidth":0.4,"strokeOpacity":0.8},"encoding":{"order":{"value":null},"detail":{"field":"l"}}},
{"data":{"name":"bars"},"mark":{"type":"rect","fill":{"gradient":"linear","x1":0,"y1":0,"x2":0,"y2":1,"stops":[{"offset":0,"color":"#7a0c00"},{"offset":0.2,"color":"#e01000"},{"offset":0.3,"color":"#d8c800"},{"offset":0.4,"color":"#20d020"},{"offset":0.65,"color":"#20d020"},{"offset":0.78,"color":"#00a0a0"},{"offset":0.84,"color":"#0030e0"},{"offset":1,"color":"#0010c0"}]}},"encoding":{"x2":{"field":"x2"},"y2":{"field":"y2"}}},
{"data":{"name":"text"},"transform":[{"filter":"datum.r==='tag'"}],"mark":{"type":"text","align":"left","baseline":"middle","font":"Liberation Serif","fontWeight":"bold","fontSize":15,"fill":"#1c1ccc","clip":true},"encoding":{"text":{"field":"t"}}},
{"data":{"name":"text"},"transform":[{"filter":"datum.r==='info'"}],"mark":{"type":"text","align":"left","baseline":"middle","font":"Liberation Sans","fontSize":5.2,"fill":"#222","clip":true},"encoding":{"text":{"field":"t"}}},
{"data":{"name":"text"},"transform":[{"filter":"datum.r==='red'"}],"mark":{"type":"text","align":"left","baseline":"middle","font":"Liberation Sans","fontSize":5.2,"fill":"#ee1050","clip":true},"encoding":{"text":{"field":"t"}}},
{"data":{"name":"text"},"transform":[{"filter":"datum.r==='blue'"}],"mark":{"type":"text","align":"left","baseline":"middle","font":"Liberation Sans","fontSize":5.2,"fill":"#2020ee","clip":true},"encoding":{"text":{"field":"t"}}},
{"data":{"name":"text"},"transform":[{"filter":"datum.r==='ax'"}],"mark":{"type":"text","align":"left","baseline":"middle","font":"Liberation Sans","fontWeight":"bold","fontSize":6.2,"fill":"#222","clip":true},"encoding":{"text":{"field":"t"}}},
{"data":{"name":"text"},"transform":[{"filter":"datum.r==='rot'"}],"mark":{"type":"text","align":"center","baseline":"middle","angle":270,"font":"Liberation Sans","fontWeight":"bold","fontSize":6.2,"fill":"#222","clip":true},"encoding":{"text":{"field":"t"}}},
{"data":{"name":"text"},"transform":[{"filter":"datum.r==='z'"}],"mark":{"type":"text","align":"right","baseline":"middle","font":"Liberation Sans","fontSize":4.4,"fill":"#222","clip":true},"encoding":{"text":{"field":"t"}}},
{"data":{"name":"text"},"transform":[{"filter":"datum.r==='tk'"}],"mark":{"type":"text","align":"center","baseline":"middle","font":"Liberation Sans","fontSize":4.4,"fill":"#222","clip":true},"encoding":{"text":{"field":"t"}}}
]}
